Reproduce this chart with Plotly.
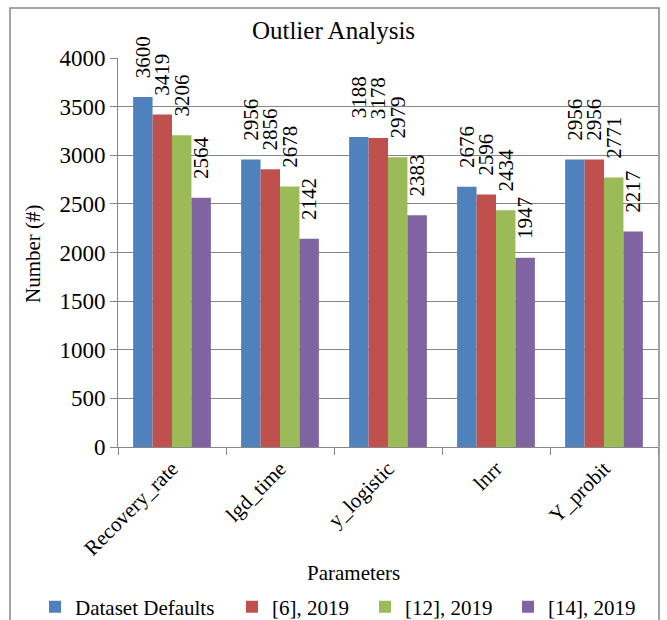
import plotly.graph_objects as go

categories = ["Recovery_rate", "lgd_time", "y_logistic", "lnrr", "Y_probit"]
series_names = ["Dataset Defaults", "[6], 2019", "[12], 2019", "[14], 2019"]
dataset_defaults = [3600, 2956, 3188, 2676, 2956]
ref6_2019 = [3419, 2856, 3178, 2596, 2956]
ref12_2019 = [3206, 2678, 2979, 2434, 2771]
ref14_2019 = [2564, 2142, 2383, 1947, 2217]
y_ticks = [0, 500, 1000, 1500, 2000, 2500, 3000, 3500, 4000]

colors = ["#4F81BD", "#C0504D", "#9BBB59", "#8064A2"]
legend_widths = [152, 88, 98, 98]
FONT = "Liberation Serif, Times New Roman, serif"

# plot area in pixels (for paper-coordinate conversions)
L, R, T, B = 118, 658, 58, 447
W, H = R - L, B - T

fig = go.Figure()
for name, vals, col, lw in zip(series_names,
                               [dataset_defaults, ref6_2019, ref12_2019, ref14_2019],
                               colors, legend_widths):
    fig.add_trace(go.Bar(
        x=categories, y=vals, name=name,
        marker=dict(color=col, line=dict(width=0)),
        texttemplate="\u00a0\u00a0\u00a0%{y}",
        textposition="outside",
        textangle=-90,
        constraintext="none",
        cliponaxis=False,
        legendwidth=lw,
        textfont=dict(family=FONT, size=21, color="black"),
    ))

fig.update_layout(
    width=667, height=620,
    margin=dict(l=L, r=667 - R, t=T, b=620 - B, autoexpand=False),
    paper_bgcolor="white", plot_bgcolor="white",
    barmode="group", bargap=0.28, bargroupgap=0,
    font=dict(family=FONT, size=21, color="black"),
    title=dict(text="Outlier Analysis", x=0.5, xref="container", xanchor="center",
               y=1 - 30 / 620, yref="container", yanchor="middle",
               font=dict(family=FONT, size=25, color="black")),
    showlegend=True,
    legend=dict(orientation="h", xref="paper", x=(35 - L) / W, xanchor="left",
                yref="paper", y=(B - 607) / H, yanchor="middle",
                font=dict(family=FONT, size=21, color="black"),
                traceorder="normal", itemwidth=30,
                bgcolor="rgba(0,0,0,0)"),
    xaxis=dict(showline=True, linecolor="#868686", linewidth=1,
               ticks="outside", ticklen=7, tickcolor="#868686",
               tickson="boundaries", tickangle=-45, automargin=False,
               tickfont=dict(family=FONT, size=21, color="black"),
               showgrid=False),
    yaxis=dict(range=[0, 4000], tickvals=y_ticks, automargin=False,
               showline=True, linecolor="#868686", linewidth=1,
               ticks="outside", ticklen=7, tickcolor="#868686",
               showgrid=True, gridcolor="#868686", gridwidth=1,
               zeroline=False,
               tickfont=dict(family=FONT, size=23, color="black")),
    annotations=[
        dict(text="Number (#)", xref="paper", yref="paper",
             x=(33 - L) / W, y=(B - 254) / H, textangle=-90,
             showarrow=False, xanchor="center", yanchor="middle",
             font=dict(family=FONT, size=21, color="black")),
        dict(text="Parameters", xref="paper", yref="paper",
             x=(353 - L) / W, y=(B - 573) / H,
             showarrow=False, xanchor="center", yanchor="middle",
             font=dict(family=FONT, size=21, color="black")),
    ],
    shapes=[dict(type="rect", xref="paper", yref="paper",
                 x0=(10 - L) / W, x1=(659 - L) / W,
                 y0=(B - 640) / H, y1=(B - 8) / H,
                 line=dict(color="#868686", width=1.5), layer="below")],
)

fig.write_html("out.html", config={"displayModeBar": False},
               post_script="document.body.style.margin='0';document.body.style.overflow='hidden';")
